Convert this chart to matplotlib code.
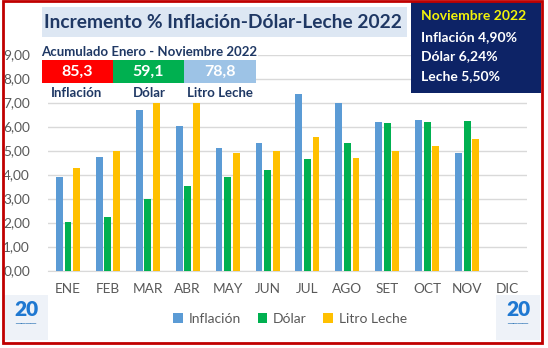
import numpy as np
import matplotlib.pyplot as plt
from matplotlib.patches import Rectangle

plt.rcParams['font.family'] = ['Lato', 'DejaVu Sans']

meses = ['ENE', 'FEB', 'MAR', 'ABR', 'MAY', 'JUN', 'JUL', 'AGO', 'SET', 'OCT', 'NOV', 'DIC']
inflacion = [3.89, 4.71, 6.69, 6.03, 5.10, 5.31, 7.35, 6.98, 6.18, 6.28, 4.90]
dolar = [2.04, 2.25, 2.97, 3.54, 3.89, 4.18, 4.64, 5.32, 6.14, 6.18, 6.24]
leche = [4.28, 5.00, 7.00, 7.00, 4.90, 5.00, 5.56, 4.68, 5.00, 5.17, 5.50]
yticks = [0, 1, 2, 3, 4, 5, 6, 7, 8, 9]

acum_valores = ['85,3', '59,1', '78,8']
acum_nombres = ['Inflación', 'Dólar', 'Litro Leche']
nov_lineas = ['Inflación 4,90%', 'Dólar 6,24%', 'Leche 5,50%']

AZUL = '#5b9bd5'
VERDE = '#00b050'
AMARILLO = '#ffc000'
NAVY = '#1f3864'
GRIS = '#595959'

W, H = 548, 348
fig = plt.figure(figsize=(W / 100, H / 100), dpi=100)

def fx(x):
    return x / W

def fy(y):
    return 1 - y / H

# axes
ax = fig.add_axes([fx(48), fy(270.5), fx(527 - 48), (270.5 - 54.5) / H])
x = np.arange(len(inflacion))
bw = 0.17
off = 0.215
ax.bar(x - off, inflacion, bw, color=AZUL, label='Inflación', zorder=3)
ax.bar(x, dolar, bw, color=VERDE, label='Dólar', zorder=3)
ax.bar(x + off, leche, bw, color=AMARILLO, label='Litro Leche', zorder=3)
ax.set_xlim(-0.5, 11.5)
ax.set_ylim(0, 9)
ax.set_xticks(np.arange(12))
ax.set_xticklabels(meses)
ax.set_yticks(yticks)
ax.set_yticklabels(['%d,00' % v for v in yticks])
ax.tick_params(length=0, labelsize=9.8, colors=GRIS)
ax.tick_params(axis='x', pad=9)
ax.tick_params(axis='y', pad=13)
ax.grid(axis='y', color='#d9d9d9', linewidth=1, zorder=0)
for s in ['top', 'right', 'left']:
    ax.spines[s].set_visible(False)
ax.spines['bottom'].set_color('#d9d9d9')

leg = fig.legend(loc='center', bbox_to_anchor=(fx(290), fy(319)), ncol=3,
                 frameon=False, fontsize=10, handlelength=0.7, handleheight=0.7,
                 handletextpad=0.4, columnspacing=1.2, labelcolor=GRIS)

# title block
fig.patches.append(Rectangle((fx(42), fy(37)), fx(407 - 42), 30 / H,
                             transform=fig.transFigure, facecolor='#dde7f3',
                             edgecolor='none', zorder=0))
fig.text(fx(223), fy(22), 'Incremento % Inflación-Dólar-Leche 2022', ha='center',
         va='center', fontsize=13.8, fontweight='bold', color=NAVY)

# november box
fig.patches.append(Rectangle((fx(411), fy(93)), fx(541 - 411), 91 / H,
                             transform=fig.transFigure, facecolor='#0d2366',
                             edgecolor='none', zorder=5))
fig.text(fx(421), fy(16), 'Noviembre 2022', ha='left', va='center', fontsize=10,
         fontweight='bold', color='#f2f20a', zorder=6)
for i, t in enumerate(nov_lineas):
    fig.text(fx(421), fy(37 + i * 19.3), t, ha='left', va='center', fontsize=10,
             fontweight='bold', color='white', zorder=6)

# accumulated block
fig.text(fx(149), fy(52), 'Acumulado Enero - Noviembre 2022', ha='center',
         va='center', fontsize=9.5, fontweight='bold', color=NAVY, zorder=6,
         bbox=dict(facecolor='white', edgecolor='none', pad=1))
colores_acum = ['#ff0000', VERDE, '#9dc3e6']
bordes = [42, 113, 184, 256]
for i in range(3):
    fig.patches.append(Rectangle((fx(bordes[i]), fy(83)), fx(bordes[i + 1] - bordes[i]),
                                 23 / H, transform=fig.transFigure,
                                 facecolor=colores_acum[i], edgecolor='none', zorder=5))
    fig.text(fx((bordes[i] + bordes[i + 1]) / 2), fy(71.5), acum_valores[i], ha='center',
             va='center', fontsize=11.5, fontweight='bold', color='white', zorder=6)
for xc, t in zip([77, 149, 220], acum_nombres):
    fig.text(fx(xc), fy(93), t, ha='center', va='center', fontsize=9.5,
             fontweight='bold', color=NAVY, zorder=6)

# logos
for x0 in [4, 496]:
    fig.patches.append(Rectangle((fx(x0), fy(340)), fx(44), 45 / H,
                                 transform=fig.transFigure, facecolor='#eef2f8',
                                 edgecolor='none', zorder=1))
    fig.text(fx(x0 + 22), fy(309), '20', ha='center', va='center', fontsize=15,
             fontweight='heavy', color='#1f78d1', zorder=2)
    fig.text(fx(x0 + 22), fy(323), '────', ha='center', va='center', fontsize=5,
             color='#2e75b6', zorder=2)

# red frame
fig.patches.append(Rectangle((fx(3), fy(343)), fx(542 - 3), 342 / H,
                             transform=fig.transFigure, facecolor='none',
                             edgecolor='#c00000', linewidth=2, zorder=10))

fig.savefig('out.png', dpi=100)
